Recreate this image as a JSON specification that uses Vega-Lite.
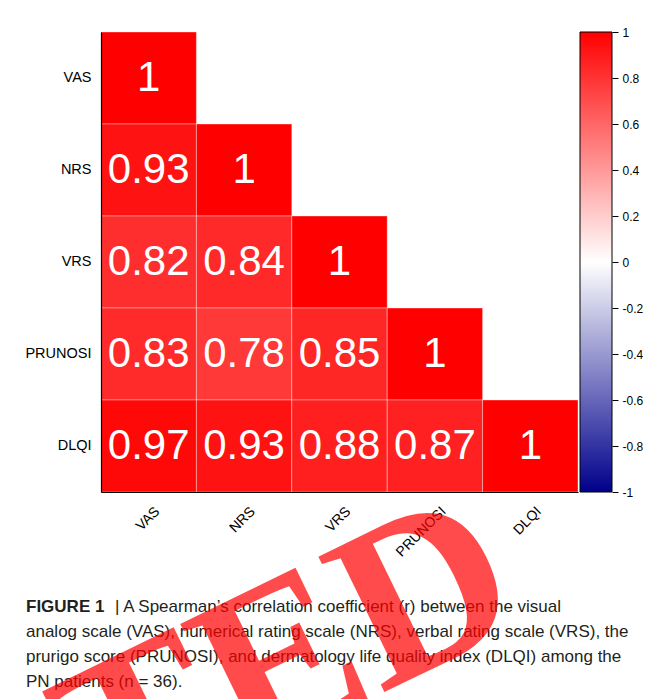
{
  "$schema": "https://vega.github.io/schema/vega-lite/v6.json",
  "padding": {"left": 24, "top": 26, "right": 0, "bottom": 0},
  "background": "white",
  "bounds": "flush",
  "columns": 2,
  "spacing": {"row": 102.5, "column": 2},
  "config": {"view": {"stroke": null}, "axis": {"grid": false}},
  "concat": [
    {
      "width": 477,
      "height": 460,
      "data": {"values": [
        {"row": "VAS", "col": "VAS", "r": 1},
        {"row": "NRS", "col": "VAS", "r": 0.93},
        {"row": "NRS", "col": "NRS", "r": 1},
        {"row": "VRS", "col": "VAS", "r": 0.82},
        {"row": "VRS", "col": "NRS", "r": 0.84},
        {"row": "VRS", "col": "VRS", "r": 1},
        {"row": "PRUNOSI", "col": "VAS", "r": 0.83},
        {"row": "PRUNOSI", "col": "NRS", "r": 0.78},
        {"row": "PRUNOSI", "col": "VRS", "r": 0.85},
        {"row": "PRUNOSI", "col": "PRUNOSI", "r": 1},
        {"row": "DLQI", "col": "VAS", "r": 0.97},
        {"row": "DLQI", "col": "NRS", "r": 0.93},
        {"row": "DLQI", "col": "VRS", "r": 0.88},
        {"row": "DLQI", "col": "PRUNOSI", "r": 0.87},
        {"row": "DLQI", "col": "DLQI", "r": 1}
      ]},
      "encoding": {
        "x": {
          "field": "col", "type": "nominal",
          "scale": {"domain": ["VAS", "NRS", "VRS", "PRUNOSI", "DLQI"], "paddingInner": 0, "paddingOuter": 0},
          "axis": {"title": null, "ticks": false, "domainColor": "black", "domainWidth": 1.2, "labelAngle": -45, "labelAlign": "right", "labelBaseline": "top", "labelPadding": 12, "labelOffset": 4, "labelFont": "Liberation Sans", "labelFontSize": 14, "labelColor": "black"}
        },
        "y": {
          "field": "row", "type": "nominal",
          "scale": {"domain": ["VAS", "NRS", "VRS", "PRUNOSI", "DLQI"], "paddingInner": 0, "paddingOuter": 0},
          "axis": {"title": null, "ticks": false, "domainColor": "black", "domainWidth": 1.2, "labelPadding": 10, "labelFont": "Liberation Sans", "labelFontSize": 14.5, "labelColor": "black"}
        }
      },
      "layer": [
        {
          "mark": {"type": "rect", "stroke": "white", "strokeWidth": 0.6, "strokeOpacity": 0.6},
          "encoding": {
            "color": {"field": "r", "type": "quantitative", "scale": {"domain": [-1, 0, 1], "range": ["#00008b", "#ffffff", "#ff0000"], "interpolate": "rgb"}, "legend": null}
          }
        },
        {
          "mark": {"type": "text", "font": "Liberation Sans", "fontSize": 42, "color": "white", "baseline": "middle"},
          "encoding": {"text": {"field": "r", "type": "quantitative", "format": ".2~f"}}
        }
      ]
    },
    {
      "width": 32,
      "height": 460,
      "data": {"values": [{"lo": -1, "hi": 1}]},
      "mark": {
        "type": "rect",
        "stroke": "black",
        "strokeWidth": 1,
        "fill": {"gradient": "linear", "x1": 0, "y1": 0, "x2": 0, "y2": 1,
          "stops": [
            {"offset": 0, "color": "#ff0000"},
            {"offset": 0.5, "color": "#ffffff"},
            {"offset": 1, "color": "#00008b"}
          ]}
      },
      "encoding": {
        "y": {
          "field": "lo", "type": "quantitative",
          "scale": {"domain": [-1, 1], "nice": false, "zero": false},
          "axis": {"orient": "right", "title": null, "domain": false, "grid": false, "values": [-1, -0.8, -0.6, -0.4, -0.2, 0, 0.2, 0.4, 0.6, 0.8, 1], "labelExpr": "'' + datum.value", "tickSize": 6, "tickColor": "black", "labelFont": "Liberation Sans", "labelFontSize": 12, "labelColor": "black", "labelPadding": 4, "labelFlush": false, "labelOverlap": false}
        },
        "y2": {"field": "hi"}
      }
    },
    {
      "width": 400,
      "height": 100,
      "encoding": {
        "x": {"field": "pos", "type": "quantitative", "scale": {"domain": [0, 1], "nice": false, "zero": false}, "axis": null},
        "y": {"field": "line", "type": "quantitative", "scale": {"domain": [0.5, 4.5], "reverse": true, "nice": false, "zero": false}, "axis": null},
        "text": {"field": "text"}
      },
      "layer": [
        {
          "data": {"values": [{"line": 1, "pos": 0, "text": "FIGURE 1"}]},
          "mark": {"type": "text", "align": "left", "baseline": "middle", "dx": -75, "font": "Liberation Sans", "fontSize": 17, "fontWeight": "bold", "color": "#231f20"}
        },
        {
          "data": {"values": [{"line": 1, "pos": 0, "text": "| A Spearman’s correlation coefficient (r) between the visual"}]},
          "mark": {"type": "text", "align": "left", "baseline": "middle", "dx": 14, "font": "Liberation Sans", "fontSize": 17, "color": "#231f20"}
        },
        {
          "data": {"values": [
            {"line": 2, "pos": 0, "text": "analog scale (VAS), numerical rating scale (NRS), verbal rating scale (VRS), the"},
            {"line": 3, "pos": 0, "text": "prurigo score (PRUNOSI), and dermatology life quality index (DLQI) among the"},
            {"line": 4, "pos": 0, "text": "PN patients (n = 36)."}
          ]},
          "mark": {"type": "text", "align": "left", "baseline": "middle", "dx": -75, "font": "Liberation Sans", "fontSize": 17, "color": "#231f20"}
        },
        {
          "data": {"values": [{"line": 1.56, "pos": 1.0725, "text": "TED"}]},
          "mark": {"type": "text", "align": "right", "baseline": "alphabetic", "angle": 334, "font": "Liberation Serif", "fontSize": 230, "fontWeight": "bold", "color": "#ff0000", "opacity": 0.7}
        }
      ]
    }
  ]
}
